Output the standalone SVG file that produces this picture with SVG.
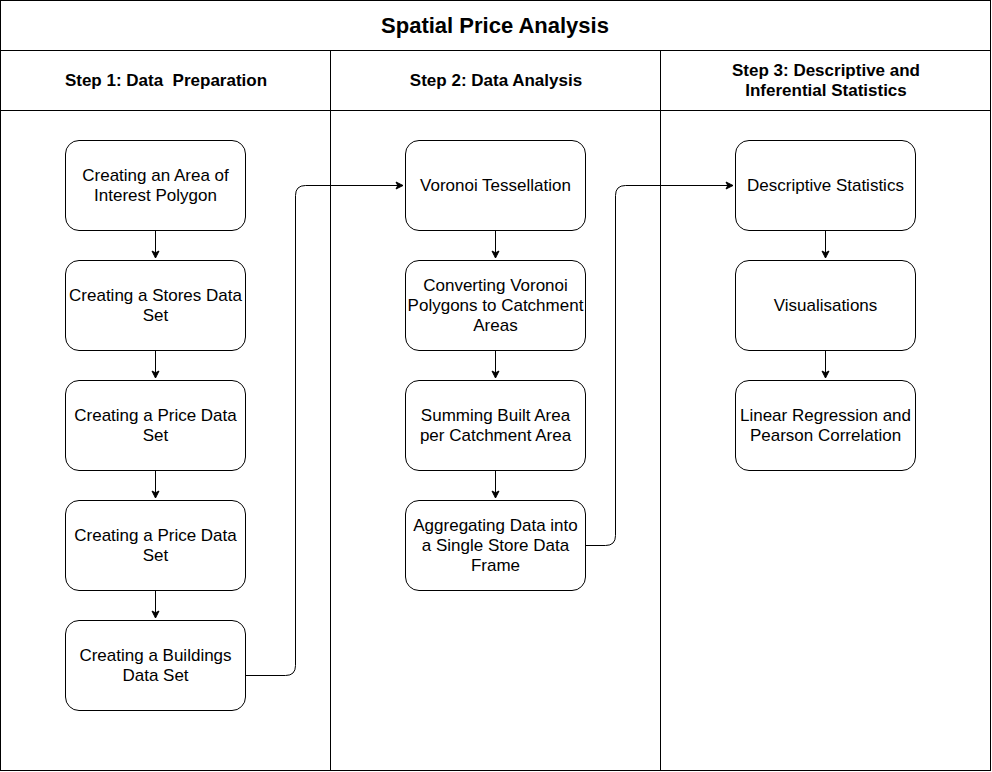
<svg xmlns="http://www.w3.org/2000/svg" width="992" height="772" viewBox="0 0 992 772">
<style>
.frame{fill:#fff;stroke:#000;stroke-width:1}
.node{fill:#fff;stroke:#000;stroke-width:1}
.t{font-family:"Liberation Sans",Arial,sans-serif;font-size:17px;fill:#000;text-anchor:middle}
.h{font-family:"Liberation Sans",Arial,sans-serif;font-size:17px;font-weight:bold;fill:#000;text-anchor:middle}
.title{font-family:"Liberation Sans",Arial,sans-serif;font-size:22px;font-weight:bold;fill:#000;text-anchor:middle}
.edge{fill:none;stroke:#000;stroke-width:1}
</style>
<defs>
<marker id="arr" markerWidth="10" markerHeight="10" refX="8" refY="5" orient="auto" markerUnits="userSpaceOnUse">
<path d="M1,1.5 L8,5 L1,8.5 L2.8,5 Z" fill="#000" stroke="#000" stroke-width="1"/>
</marker>
</defs>
<rect width="992" height="772" fill="#fff"/>
<g id="pool">
<rect class="frame" x="0.5" y="0.5" width="990" height="770"/>
<line class="edge" x1="0.5" y1="50.5" x2="990.5" y2="50.5"/>
<line class="edge" x1="0.5" y1="110.5" x2="990.5" y2="110.5"/>
<line class="edge" x1="330.5" y1="50.5" x2="330.5" y2="770.5"/>
<line class="edge" x1="660.5" y1="50.5" x2="660.5" y2="770.5"/>
<text class="title" x="495" y="33">Spatial Price Analysis</text>
<text class="h" x="166" y="86" xml:space="preserve">Step 1: Data  Preparation</text>
<text class="h" x="496" y="86">Step 2: Data Analysis</text>
<text class="h" x="826" y="76">Step 3: Descriptive and</text>
<text class="h" x="826" y="96">Inferential Statistics</text>
</g>
<g id="connectors">
<path class="edge" d="M155.5,230.5 V258" marker-end="url(#arr)"/>
<path class="edge" d="M155.5,350.5 V378" marker-end="url(#arr)"/>
<path class="edge" d="M155.5,470.5 V498" marker-end="url(#arr)"/>
<path class="edge" d="M155.5,590.5 V618" marker-end="url(#arr)"/>
<path class="edge" d="M245.5,675.5 H285.5 Q295.5,675.5 295.5,665.5 V195.5 Q295.5,185.5 305.5,185.5 H403" marker-end="url(#arr)"/>
<path class="edge" d="M495.5,230.5 V258" marker-end="url(#arr)"/>
<path class="edge" d="M495.5,350.5 V378" marker-end="url(#arr)"/>
<path class="edge" d="M495.5,470.5 V498" marker-end="url(#arr)"/>
<path class="edge" d="M585.5,545.5 H605.5 Q615.5,545.5 615.5,535.5 V195.5 Q615.5,185.5 625.5,185.5 H733" marker-end="url(#arr)"/>
<path class="edge" d="M825.5,230.5 V258" marker-end="url(#arr)"/>
<path class="edge" d="M825.5,350.5 V378" marker-end="url(#arr)"/>
</g>
<g id="n1"><rect class="node" x="65.5" y="140.5" width="180" height="90" rx="13.5"/><text class="t" x="155.5" y="181">Creating an Area of</text><text class="t" x="155.5" y="201">Interest Polygon</text></g>
<g id="n2"><rect class="node" x="65.5" y="260.5" width="180" height="90" rx="13.5"/><text class="t" x="155.5" y="301">Creating a Stores Data</text><text class="t" x="155.5" y="321">Set</text></g>
<g id="n3"><rect class="node" x="65.5" y="380.5" width="180" height="90" rx="13.5"/><text class="t" x="155.5" y="421">Creating a Price Data</text><text class="t" x="155.5" y="441">Set</text></g>
<g id="n4"><rect class="node" x="65.5" y="500.5" width="180" height="90" rx="13.5"/><text class="t" x="155.5" y="541">Creating a Price Data</text><text class="t" x="155.5" y="561">Set</text></g>
<g id="n5"><rect class="node" x="65.5" y="620.5" width="180" height="90" rx="13.5"/><text class="t" x="155.5" y="661">Creating a Buildings</text><text class="t" x="155.5" y="681">Data Set</text></g>
<g id="n6"><rect class="node" x="405.5" y="140.5" width="180" height="90" rx="13.5"/><text class="t" x="495.5" y="191">Voronoi Tessellation</text></g>
<g id="n7"><rect class="node" x="405.5" y="260.5" width="180" height="90" rx="13.5"/><text class="t" x="495.5" y="291">Converting Voronoi</text><text class="t" x="495.5" y="311">Polygons to Catchment</text><text class="t" x="495.5" y="331">Areas</text></g>
<g id="n8"><rect class="node" x="405.5" y="380.5" width="180" height="90" rx="13.5"/><text class="t" x="495.5" y="421">Summing Built Area</text><text class="t" x="495.5" y="441">per Catchment Area</text></g>
<g id="n9"><rect class="node" x="405.5" y="500.5" width="180" height="90" rx="13.5"/><text class="t" x="495.5" y="531">Aggregating Data into</text><text class="t" x="495.5" y="551">a Single Store Data</text><text class="t" x="495.5" y="571">Frame</text></g>
<g id="n10"><rect class="node" x="735.5" y="140.5" width="180" height="90" rx="13.5"/><text class="t" x="825.5" y="191">Descriptive Statistics</text></g>
<g id="n11"><rect class="node" x="735.5" y="260.5" width="180" height="90" rx="13.5"/><text class="t" x="825.5" y="311">Visualisations</text></g>
<g id="n12"><rect class="node" x="735.5" y="380.5" width="180" height="90" rx="13.5"/><text class="t" x="825.5" y="421">Linear Regression and</text><text class="t" x="825.5" y="441">Pearson Correlation</text></g>
</svg>
